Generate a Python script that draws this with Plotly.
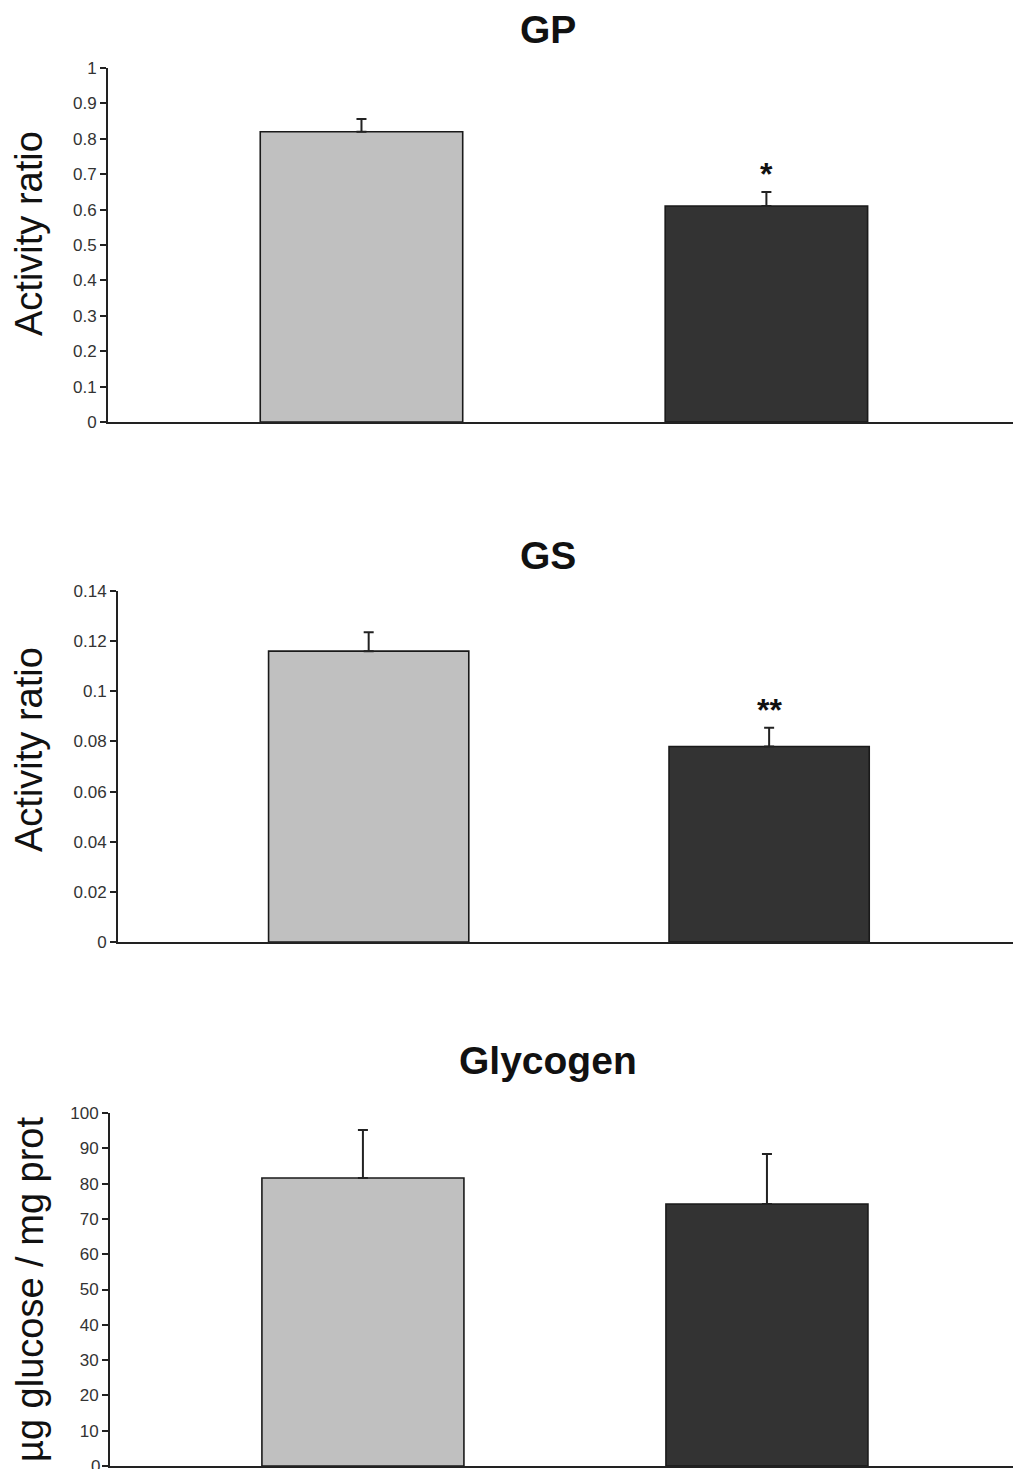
import plotly.graph_objects as go

# ---- data ----
groups = ["Control", "Treated"]
bar_colors = ["#C0C0C0", "#333333"]

gp_values = [0.82, 0.61]
gp_errors = [0.036, 0.040]
gp_marks = ["", "*"]

gs_values = [0.116, 0.078]
gs_errors = [0.0075, 0.0075]
gs_marks = ["", "**"]

gly_values = [81.6, 74.2]
gly_errors = [13.6, 14.2]
gly_marks = ["", ""]

panel_titles = ["GP", "GS", "Glycogen"]
y_titles = ["Activity ratio", "Activity ratio", "µg glucose / mg prot"]
y_ranges = [[0, 1], [0, 0.14], [0, 100]]
y_dticks = [0.1, 0.02, 10]

W, H = 1013, 1469
FONT = "Liberation Sans, Arial, sans-serif"

# pixel layout of each panel: (axis_left, y0_px, ytop_px)
panels_px = [(108, 422, 68), (118, 942, 591), (110, 1466, 1113)]
title_px = [30, 555, 1060]
ytitle_px = [(29, 234), (29, 750), (30, 1289)]

fig = go.Figure()

data = [(gp_values, gp_errors, gp_marks),
        (gs_values, gs_errors, gs_marks),
        (gly_values, gly_errors, gly_marks)]

for i, (vals, errs, marks) in enumerate(data):
    xa = "x" if i == 0 else f"x{i+1}"
    ya = "y" if i == 0 else f"y{i+1}"
    fig.add_trace(go.Bar(
        x=[0, 1], y=vals,
        marker=dict(color=bar_colors, line=dict(color="#1a1a1a", width=1.6)),
        width=0.5,
        error_y=dict(type="data", array=errs, arrayminus=[0, 0], symmetric=False,
                     color="#222222", thickness=2, width=5),
        xaxis=xa, yaxis=ya, showlegend=False,
    ))
    left, y0, ytop = panels_px[i]
    xkey = "xaxis" if i == 0 else f"xaxis{i+1}"
    ykey = "yaxis" if i == 0 else f"yaxis{i+1}"
    fig.update_layout(**{
        xkey: dict(domain=[left / W, 1.0], range=[-0.626, 1.609],
                   showticklabels=False, ticks="", showgrid=False, zeroline=False,
                   showline=True, linecolor="#222222", linewidth=2,
                   anchor=ya, fixedrange=True),
        ykey: dict(domain=[1 - y0 / H, 1 - ytop / H], range=y_ranges[i],
                   dtick=y_dticks[i], tick0=0, showgrid=False, zeroline=False,
                   showline=True, linecolor="#222222", linewidth=2,
                   ticks="outside", ticklen=6, tickwidth=1.5, tickcolor="#222222",
                   tickfont=dict(family=FONT, size=17, color="#333333"),
                   anchor=xa, fixedrange=True),
    })
    for j, m in enumerate(marks):
        if m:
            fig.add_annotation(x=j, y=vals[j] + errs[j], xref=xa, yref=ya,
                               text=f"<b>{m}</b>", showarrow=False,
                               yanchor="bottom", yshift=-2,
                               font=dict(family=FONT, size=32, color="#111111"))
    fig.add_annotation(x=548 / W, y=1 - title_px[i] / H, xref="paper", yref="paper",
                       text=f"<b>{panel_titles[i]}</b>", showarrow=False,
                       xanchor="center", yanchor="middle",
                       font=dict(family=FONT, size=39, color="#111111"))
    tx, ty = ytitle_px[i]
    fig.add_annotation(x=tx / W, y=1 - ty / H, xref="paper", yref="paper",
                       text=y_titles[i], showarrow=False, textangle=-90,
                       xanchor="center", yanchor="middle",
                       font=dict(family=FONT, size=38, color="#111111"))

# bottom "0" tick label of the last panel, which sits at the page edge
fig.add_annotation(x=(panels_px[2][0] - 8) / W, y=y_ranges[2][0], xref="paper", yref="y3",
                   text="0", showarrow=False, xanchor="right", yanchor="middle",
                   font=dict(family=FONT, size=17, color="#333333"))

fig.update_layout(width=W, height=H,
                  margin=dict(l=0, r=0, t=0, b=0, autoexpand=False),
                  plot_bgcolor="white", paper_bgcolor="white")

fig.write_html("out.html")
